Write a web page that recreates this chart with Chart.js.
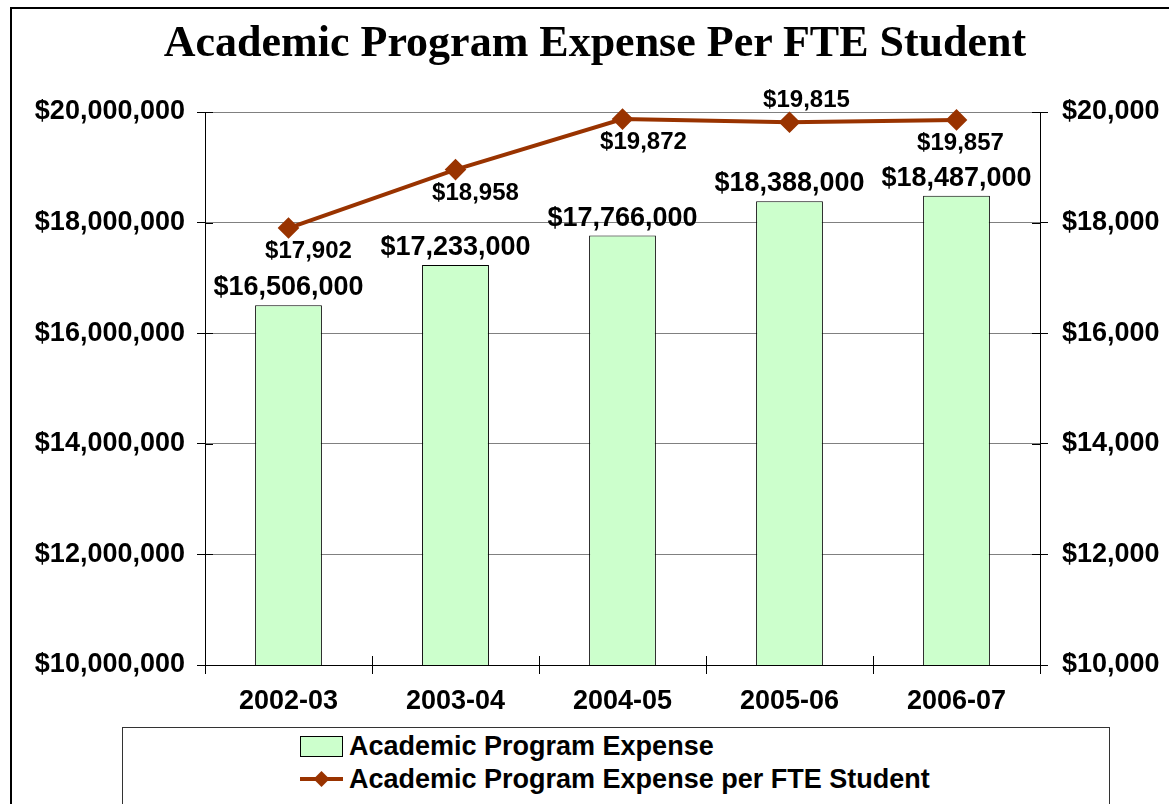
<!DOCTYPE html>
<html><head><meta charset="UTF-8">
<title>Academic Program Expense Per FTE Student</title>
<script src="https://cdn.jsdelivr.net/npm/chart.js"></script>
<style>
  body{margin:0;background:#fff;width:1169px;height:804px;overflow:hidden;position:relative;font-family:"Liberation Sans",Arial,sans-serif}
  #frame{position:absolute;left:10px;top:7px;width:1200px;height:900px;border:2px solid #000}
  #title{position:absolute;left:0;top:16px;width:1190px;text-align:center;font-family:"Liberation Serif",serif;font-weight:bold;font-size:44px;color:#000}
  #wrap{position:absolute;left:0;top:0;width:1169px;height:804px}
  #legend{position:absolute;left:122px;top:727px;width:986px;height:100px;border:1px solid #333;background:#fff}
  .item{position:absolute;left:177px;font-weight:bold;font-size:27px;line-height:30px;color:#000;white-space:nowrap}
  .sw{display:inline-block;vertical-align:middle;margin-right:6px}
</style>
</head><body>
<div id="frame"></div>
<div id="wrap"><canvas id="chart" width="1169" height="804"></canvas></div>
<div id="title">Academic Program Expense Per FTE Student</div>
<div id="legend">
  <div class="item" style="top:3px"><span class="sw" style="width:41px;height:19px;background:#ccffcc;border:1px solid #000;margin-top:-3px"></span><span id="lg0"></span></div>
  <div class="item" style="top:36px"><svg class="sw" width="43" height="20" style="margin-top:-3px"><line x1="0" y1="10" x2="43" y2="10" stroke="#993300" stroke-width="4"/><polygon points="21.5,2 29.5,10 21.5,18 13.5,10" fill="#993300"/></svg><span id="lg1"></span></div>
</div>
<script>
const years = ["2002-03", "2003-04", "2004-05", "2005-06", "2006-07"];
const expense = [16506000, 17233000, 17766000, 18388000, 18487000];
const perFte = [17902, 18958, 19872, 19815, 19857];
const seriesNames = ["Academic Program Expense", "Academic Program Expense per FTE Student"];
const fteLabelAbove = [false, false, false, true, false];

document.getElementById("lg0").textContent = seriesNames[0];
document.getElementById("lg1").textContent = seriesNames[1];

const money = v => "$" + Number(v).toLocaleString("en-US");
const font = size => ({family: "'Liberation Sans', Arial, sans-serif", size: size, weight: "bold"});

// data labels, as the spreadsheet placed them (line labels sit a bit right of the points)
const lineLabelNudge = [20, 20, 21, 17, 4];
const valueLabels = {
  id: "valueLabels",
  afterDatasetsDraw(chart) {
    const ctx = chart.ctx;
    ctx.save();
    ctx.fillStyle = "#000";
    ctx.textAlign = "center";
    ctx.textBaseline = "alphabetic";
    chart.getDatasetMeta(0).data.forEach((bar, i) => {
      ctx.font = "bold 27px 'Liberation Sans', Arial, sans-serif";
      ctx.fillText(money(expense[i]), bar.x, bar.y - 10);
    });
    chart.getDatasetMeta(1).data.forEach((pt, i) => {
      ctx.font = "bold 24px 'Liberation Sans', Arial, sans-serif";
      ctx.fillText(money(perFte[i]), pt.x + lineLabelNudge[i], fteLabelAbove[i] ? pt.y - 15 : pt.y + 30);
    });
    ctx.restore();
  }
};

// tick marks that also cross into the plot, like Excel's "cross" ticks
const innerTicks = {
  id: "innerTicks",
  afterDraw(chart) {
    const ctx = chart.ctx, a = chart.chartArea, s = chart.scales;
    ctx.save();
    ctx.strokeStyle = "#000";
    ctx.lineWidth = 1;
    ctx.beginPath();
    s.y.ticks.forEach((t, i) => {
      const y = Math.round(s.y.getPixelForTick(i)) + 0.5;
      if (i === 0) return;
      ctx.moveTo(a.left, y); ctx.lineTo(a.left + 8, y);
    });
    s.y1.ticks.forEach((t, i) => {
      const y = Math.round(s.y1.getPixelForTick(i)) + 0.5;
      if (i === 0) return;
      ctx.moveTo(a.right - 8, y); ctx.lineTo(a.right, y);
    });
    for (let i = 1; i < years.length; i++) {
      const x = Math.round((s.x.getPixelForTick(i - 1) + s.x.getPixelForTick(i)) / 2) + 0.5;
      ctx.moveTo(x, a.bottom - 9); ctx.lineTo(x, a.bottom);
    }
    ctx.stroke();
    ctx.restore();
  }
};

new Chart(document.getElementById("chart"), {
  type: "bar",
  data: {
    labels: years,
    datasets: [
      {label: seriesNames[0], data: expense, yAxisID: "y",
       backgroundColor: "#ccffcc", borderColor: "#000", borderWidth: 1,
       barPercentage: 0.4, categoryPercentage: 1, order: 1},
      {type: "line", label: seriesNames[1], data: perFte, yAxisID: "y1",
       borderColor: "#993300", backgroundColor: "#993300", borderWidth: 4,
       pointStyle: "rectRot", pointRadius: 8, pointHoverRadius: 8, tension: 0, clip: false, order: 0}
    ]
  },
  options: {
    responsive: false,
    animation: false,
    layout: {padding: {top: 112, bottom: 79, left: 0, right: 0}},
    plugins: {legend: {display: false}, tooltip: {enabled: false}, title: {display: false}},
    scales: {
      x: {
        grid: {offset: true, drawOnChartArea: false, color: "#000", tickLength: 9},
        border: {color: "#000", width: 1},
        ticks: {color: "#000", font: font(27), padding: 11, maxRotation: 0, autoSkip: false},
        afterFit: s => { s.height = 60; }
      },
      y: {
        position: "left", min: 10000000, max: 20000000,
        ticks: {stepSize: 2000000, color: "#000", font: font(27), padding: 12, callback: v => money(v)},
        grid: {color: "#808080", tickColor: "#000", tickLength: 8},
        border: {color: "#000", width: 1},
        afterFit: s => { s.width = 205; }
      },
      y1: {
        position: "right", min: 10000, max: 20000,
        ticks: {stepSize: 2000, color: "#000", font: font(27), padding: 14, callback: v => money(v)},
        grid: {drawOnChartArea: false, tickColor: "#000", tickLength: 8},
        border: {color: "#000", width: 1},
        afterFit: s => { s.width = 129; }
      }
    }
  },
  plugins: [valueLabels, innerTicks]
});
</script>
</body></html>
